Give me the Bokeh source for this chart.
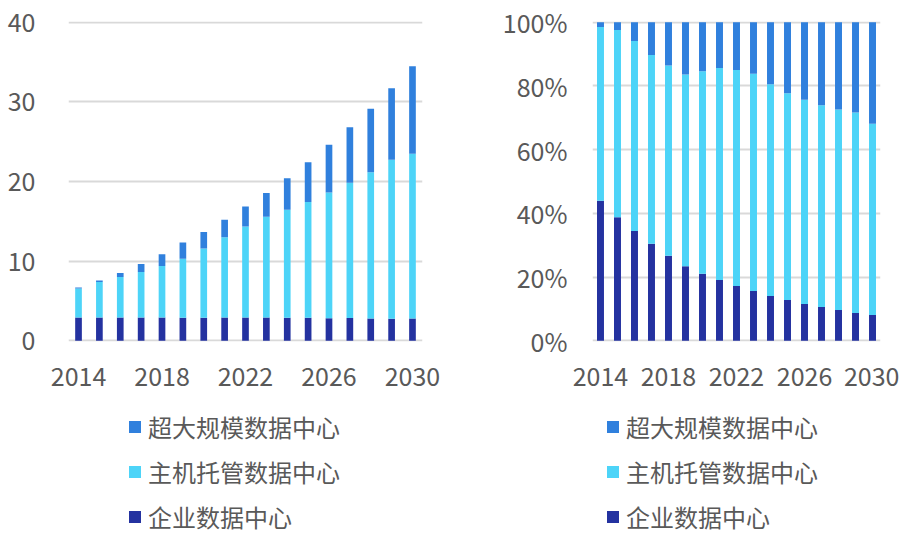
from bokeh.plotting import figure
from bokeh.models import Range1d, FixedTicker, Legend, LegendItem, NumeralTickFormatter
from bokeh.layouts import row, column
from bokeh.embed import file_html
from bokeh.resources import INLINE

years = list(range(2014, 2031))
enterprise = [2.93, 2.93, 2.93, 2.93, 2.9, 2.88, 2.87, 2.9, 2.9, 2.9, 2.87, 2.87, 2.83, 2.84, 2.8, 2.77, 2.78]
hosted = [3.64, 4.45, 5.07, 5.71, 6.49, 7.43, 8.70, 10.1, 11.44, 12.66, 13.57, 14.57, 15.79, 16.99, 18.37, 19.96, 20.7]
hyperscale = [0.1, 0.18, 0.5, 0.99, 1.47, 2.02, 2.1, 2.18, 2.52, 3.0, 3.98, 4.99, 5.99, 7.0, 7.97, 8.97, 10.99]
series_names = ["企业数据中心", "主机托管数据中心", "超大规模数据中心"]
year_ticks = [2014, 2018, 2022, 2026, 2030]
left_ticks = [0, 10, 20, 30, 40]
right_ticks = [0, 0.2, 0.4, 0.6, 0.8, 1.0]

colors = {"企业数据中心": "#2432A0", "主机托管数据中心": "#4DD4F8", "超大规模数据中心": "#3080DD"}
FONT = "Noto Sans CJK SC"
TEXT = "#595959"

totals = [a + b + c for a, b, c in zip(enterprise, hosted, hyperscale)]
pct = {
    "企业数据中心": [a / t for a, t in zip(enterprise, totals)],
    "主机托管数据中心": [b / t for b, t in zip(hosted, totals)],
    "超大规模数据中心": [c / t for c, t in zip(hyperscale, totals)],
}
absd = {"企业数据中心": enterprise, "主机托管数据中心": hosted, "超大规模数据中心": hyperscale}

CH = 395   # chart figure height
LH = 140   # legend figure height
TOP = 21
FH = 320


def src(data):
    d = {"x": years}
    for n in series_names:
        d[n] = data[n]
    return d


def make(data, width, bl, fw, yr, yticks, bar_w, fmt, xpad, ystand):
    p = figure(width=width, height=CH, output_backend="svg", toolbar_location=None,
               x_range=Range1d(years[0] - xpad, years[-1] + xpad), y_range=yr,
               min_border_left=bl, min_border_right=width - bl - fw,
               min_border_top=TOP, min_border_bottom=CH - TOP - FH)
    p.outline_line_color = None
    p.background_fill_color = None
    p.border_fill_color = None
    p.vbar_stack(series_names, x="x", width=bar_w, source=src(data),
                 color=[colors[n] for n in series_names], line_color=None)
    p.xgrid.visible = False
    p.ygrid.grid_line_color = "#D9D9D9"
    p.ygrid.grid_line_width = 2
    p.yaxis.ticker = FixedTicker(ticks=yticks)
    p.xaxis.ticker = FixedTicker(ticks=year_ticks)
    if fmt:
        p.yaxis.formatter = NumeralTickFormatter(format="0%")
    for ax in (p.xaxis, p.yaxis):
        ax.axis_line_color = None
        ax.major_tick_line_color = None
        ax.minor_tick_line_color = None
        ax.major_label_text_font = FONT
        ax.major_label_text_font_size = "25px"
        ax.major_label_text_color = TEXT
    p.xaxis.major_label_standoff = 19
    p.yaxis.major_label_standoff = ystand
    return p


def make_legend(data, width, legend_x):
    # frame of this figure is aligned with the chart above it by the column layout;
    # the bars are drawn far outside this figure's ranges, only the legend swatches show
    lf = figure(width=width, height=LH, output_backend="svg", toolbar_location=None,
                x_range=Range1d(2100, 2101), y_range=Range1d(100, 101),
                min_border_left=0, min_border_right=0, min_border_top=0, min_border_bottom=0)
    lf.axis.visible = False
    lf.grid.visible = False
    lf.outline_line_color = None
    lf.background_fill_color = None
    lf.border_fill_color = None
    rs = lf.vbar_stack(series_names, x="x", width=0.3, source=src(data),
                       color=[colors[n] for n in series_names], line_color=None)
    items = [LegendItem(label=n, renderers=[r]) for n, r in zip(series_names, rs)][::-1]
    leg = Legend(items=items, location=(legend_x, 1), orientation="vertical",
                 label_text_font=FONT, label_text_font_size="24px", label_text_color=TEXT,
                 glyph_width=15, glyph_height=15, label_height=30, spacing=10,
                 label_standoff=6, padding=0, margin=0,
                 background_fill_alpha=0, border_line_color=None)
    lf.add_layout(leg, "center")
    return lf


p1 = make(absd, 453, 68, 354, Range1d(-0.1, 40.1), left_ticks, 0.32, False, 0.48, 27)
p2 = make(pct, 446, 139, 288, Range1d(-0.0025, 1.0025), right_ticks, 0.41, True, 0.47, 19)
l1 = make_legend(absd, 453, 127 - 68)
l2 = make_legend(pct, 446, 605 - 592)

layout = row(column(p1, l1), column(p2, l2))
open("out.html", "w").write(file_html(layout, INLINE))
